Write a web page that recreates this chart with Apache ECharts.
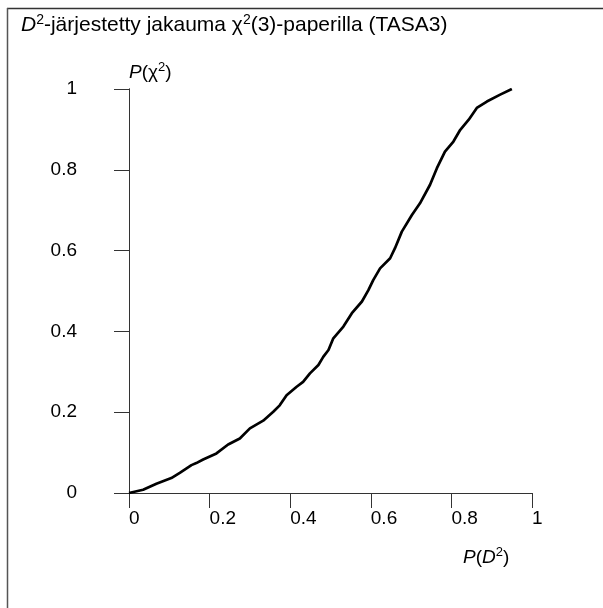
<!DOCTYPE html>
<html>
<head>
<meta charset="utf-8">
<script src="https://cdn.jsdelivr.net/npm/echarts@6/dist/echarts.min.js"></script>
<style>
  html, body { margin: 0; padding: 0; background: #fff; }
  #chart { width: 603px; height: 608px; }
</style>
</head>
<body>
<div id="chart"></div>
<script>
// Ordered D^2 distribution on chi-square(3) probability paper (TASA3)
const pD2 = [0, 0.035, 0.068, 0.105, 0.126, 0.155, 0.167, 0.184, 0.217, 0.246,
  0.275, 0.300, 0.333, 0.358, 0.374, 0.391, 0.416, 0.432, 0.449, 0.470,
  0.482, 0.495, 0.507, 0.532, 0.553, 0.578, 0.594, 0.606, 0.623, 0.648,
  0.660, 0.677, 0.702, 0.722, 0.747, 0.764, 0.784, 0.805, 0.822, 0.843,
  0.863, 0.888, 0.921, 0.950];
const pChi2 = [0, 0.008, 0.023, 0.037, 0.050, 0.069, 0.074, 0.083, 0.098, 0.120,
  0.135, 0.160, 0.179, 0.201, 0.217, 0.242, 0.263, 0.275, 0.296, 0.317,
  0.337, 0.354, 0.383, 0.412, 0.445, 0.474, 0.502, 0.527, 0.556, 0.581,
  0.606, 0.647, 0.688, 0.717, 0.763, 0.804, 0.845, 0.870, 0.899, 0.924,
  0.953, 0.969, 0.986, 1.0];
const tickStep = 0.2;

const FONT = '"Liberation Sans", Arial, Helvetica, sans-serif';
const axisColor = '#333';

const chart = echarts.init(document.getElementById('chart'), null, { renderer: 'canvas' });

function richSet(size, supSize) {
  return {
    n: { fontSize: size, fontFamily: FONT, color: '#000', fontWeight: 'normal', lineHeight: size + 4 },
    i: { fontSize: size, fontFamily: FONT, color: '#000', fontWeight: 'normal', fontStyle: 'italic', lineHeight: size + 4 },
    sup: { fontSize: supSize, fontFamily: FONT, color: '#000', fontWeight: 'normal', lineHeight: supSize, verticalAlign: 'top' }
  };
}
const richTitle = richSet(21, 14);
const richName = richSet(19, 13);

const hiddenAxis = {
  min: 0, max: 1, interval: tickStep,
  axisLine: { show: true, lineStyle: { color: axisColor, width: 1 } },
  axisTick: { show: false }, axisLabel: { show: false }, splitLine: { show: false }
};

chart.setOption({
  animation: false,
  backgroundColor: '#fff',
  title: {
    left: 16, top: 8,
    text: '{i|D}{sup|2}{n|-järjestetty jakauma χ}{sup|2}{n|(3)-paperilla (TASA3)}',
    textStyle: { fontWeight: 'normal', rich: richTitle }
  },
  grid: { left: 129, top: 89, right: 71, bottom: 115, outerBoundsMode: 'none' },
  xAxis: [{
    type: 'value', position: 'bottom', min: 0, max: 1, interval: tickStep,
    axisLine: { show: true, onZero: false, lineStyle: { color: axisColor, width: 1 } },
    axisTick: { show: true, inside: false, length: 15, lineStyle: { color: axisColor, width: 1 } },
    axisLabel: { show: true, align: 'left', margin: 16, fontSize: 19, fontFamily: FONT, color: '#000',
      showMinLabel: true, showMaxLabel: true },
    splitLine: { show: false }
  }, Object.assign({ type: 'value', position: 'top' }, hiddenAxis)],
  yAxis: [{
    type: 'value', position: 'left', min: 0, max: 1, interval: tickStep,
    axisLine: { show: true, onZero: false, lineStyle: { color: axisColor, width: 1 } },
    axisTick: { show: true, inside: false, length: 15, lineStyle: { color: axisColor, width: 1 } },
    axisLabel: { show: true, margin: 52, fontSize: 19, fontFamily: FONT, color: '#000',
      showMinLabel: true, showMaxLabel: true },
    splitLine: { show: false },
    name: '{i|P}{n|(χ}{sup|2}{n|)}',
    nameLocation: 'end', nameGap: 5,
    nameTextStyle: { align: 'left', rich: richName }
  }, Object.assign({ type: 'value', position: 'right' }, hiddenAxis)],
  graphic: [
    { type: 'line', shape: { x1: 7, y1: 8.5, x2: 603, y2: 8.5 }, style: { stroke: '#333', lineWidth: 1.5 }, silent: true },
    { type: 'line', shape: { x1: 7.5, y1: 8, x2: 7.5, y2: 608 }, style: { stroke: '#555', lineWidth: 1.5 }, silent: true },
    { type: 'text', left: 463, top: 546,
      style: { text: '{i|P}{n|(}{i|D}{sup|2}{n|)}', rich: richName } }
  ],
  series: [{
    type: 'line',
    xAxisIndex: 0, yAxisIndex: 0,
    data: pD2.map((x, k) => [x, pChi2[k]]),
    showSymbol: false,
    smooth: false,
    lineStyle: { color: '#000', width: 2.7 },
    silent: true
  }]
});
</script>
</body>
</html>
